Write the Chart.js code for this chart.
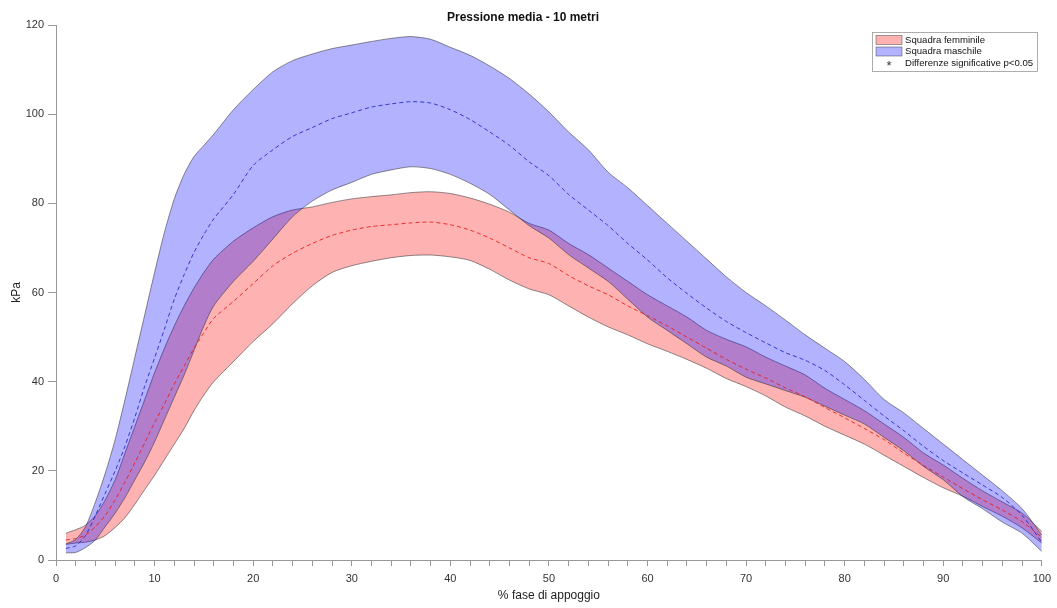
<!DOCTYPE html>
<html><head><meta charset="utf-8">
<script src="https://cdn.jsdelivr.net/npm/chart.js@4.4.1/dist/chart.umd.min.js"></script>
<style>html,body{margin:0;padding:0;background:#fff;}#wrap{width:1057px;height:608px;position:relative;}</style>
</head><body><div id="wrap"><canvas id="c" width="1057" height="608"></canvas></div>
<script>
// % fase di appoggio
const xs = [1,2,3,4,5,6,7,8,9,10,11,12,13,14,15,16,18,20,22,24,26,28,30,32,34,36,38,40,42,44,46,48,50,52,54,56,58,60,62,64,66,68,70,72,74,76,78,80,82,84,86,88,90,92,94,96,98,100];
// Squadra femminile (kPa)
const femUpper = [6.0,6.8,7.8,10,13.5,18,24,30,36,42,47.5,52.5,57,61,64.5,67.5,71.5,74.5,77,78.5,79.2,80.2,81,81.5,81.9,82.4,82.6,82.2,81.2,79.8,78,75.5,74,71,68.5,65.5,62.5,59.5,57,54.5,51.5,49.5,47.8,45.5,43.5,41.5,38.5,36,33.5,30.5,27.5,24,21.3,18.3,15.5,13,10.5,6.4];
const femMean  = [4.5,4.8,5.6,7.5,10,13.5,17.5,21.8,26.3,30.8,35,39.5,43.5,47.5,51,54.2,58,62,66,68.8,71,72.8,74,74.8,75.2,75.6,75.8,75.2,74,72.2,70,67.8,66.5,63.8,61.5,59.5,57,54.8,52.5,50,47.5,45,42.8,40.8,38.6,36.6,34.2,31.9,29.5,27,24,21.2,18.6,16,13.5,11.2,8.6,5.1];
const femLower = [3.5,3.8,4.0,4.5,5.5,7.3,9.5,12.5,15.8,19,22.5,26,29.5,33.5,37,40,44.5,49,53,57.5,61.5,64.5,66,67,67.8,68.3,68.4,68,67.2,65.2,62.8,60.8,59.5,57,54.5,52.3,50.5,48.5,46.8,45,43,40.7,38.9,36.8,34.3,32.3,30,28,26,23.5,21,18.5,16.2,14.3,12,9.8,7.2,3.8];
// Squadra maschile (kPa)
const masUpper = [3.6,4.6,7.5,13,19.5,27,36,45.5,55,64.5,73.5,81,86.5,90.5,93,95.5,101,105.5,109.5,112,113.5,114.7,115.5,116.3,117,117.4,116.8,115,113.2,110.8,108,104.5,100.5,96,92,87,83.5,79.5,75.5,71.5,67.5,63.5,60,57,53.8,50.5,47.5,44.5,40.5,36,33,29.5,26,22.5,19,15.5,11.5,5.6];
const masMean  = [2.6,3.2,5.5,10,15,20,25.5,32,39,45.3,51.8,58.5,64,69,73,76.5,82,88.5,92,95,97,99,100.3,101.6,102.3,102.8,102.5,101,98.8,96,93,89.3,86.2,82,78.5,75,71,67.3,63.3,59.8,56.5,53.5,51,48.7,46.5,44.8,42.5,39.3,35.8,32.3,29,25.5,22.3,19.5,16.8,14,10,4];
const masLower = [1.6,1.7,2.8,4.5,7.5,10.5,14,18,22,26.5,31.5,36.5,41.5,47,52.5,57,62.5,67,72,77,80.5,83,84.7,86.5,87.5,88.2,87.8,86.5,84.5,82,78.5,75,72.2,68.5,65.5,62.5,58.5,54.5,51.5,48.5,45.5,43.5,41,39.5,38,36.5,34.5,32.5,30.5,27.5,24.5,21,18,14.2,11.5,8.5,6,1.9];
// axis ticks
const yTicks = [0,20,40,60,80,100,120];
const xLabelStep = 10;

const pts = arr => arr.map((v,i)=>({x:xs[i], y:v}));
const FONT = "'Liberation Sans', Arial, Helvetica, sans-serif";
const edge = 'rgba(40,40,40,0.75)';

const legendPlugin = {
  id:'boxLegend',
  afterDraw(chart){
    const ctx = chart.ctx;
    const x0 = 872, y0 = 32, w = 165, h = 39;
    ctx.save();
    ctx.fillStyle = '#fff';
    ctx.fillRect(x0,y0,w,h);
    ctx.strokeStyle = '#9a9a9a';
    ctx.lineWidth = 0.8;
    ctx.strokeRect(x0+0.5,y0+0.5,w,h);
    const items = [
      {type:'box', fill:'rgba(255,0,0,0.3)', text:'Squadra femminile'},
      {type:'box', fill:'rgba(0,0,255,0.3)', text:'Squadra maschile'},
      {type:'star', text:'Differenze significative p<0.05'}
    ];
    ctx.textBaseline = 'middle';
    items.forEach((it,i)=>{
      const cy = y0 + 8 + i*11.5;
      if (it.type==='box'){
        ctx.fillStyle = it.fill;
        ctx.fillRect(x0+4, cy-4.5, 26, 9);
        ctx.strokeStyle = 'rgba(40,40,40,0.7)';
        ctx.lineWidth = 0.6;
        ctx.strokeRect(x0+4, cy-4.5, 26, 9);
      } else {
        ctx.fillStyle = '#333';
        ctx.textAlign = 'center';
        ctx.font = '13px ' + FONT;
        ctx.fillText('*', x0+17, cy+3);
      }
      ctx.font = '9.6px ' + FONT;
      ctx.fillStyle = '#111';
      ctx.textAlign = 'left';
      ctx.fillText(it.text, x0+33, cy);
    });
    ctx.restore();
  }
};

new Chart(document.getElementById('c'), {
  type:'line',
  data:{
    datasets:[
      {label:'fU', data:pts(femUpper), fill:'+1', backgroundColor:'rgba(255,0,0,0.3)', borderColor:edge, borderWidth:0.7, order:6},
      {label:'fL', data:pts(femLower), fill:false, borderColor:edge, borderWidth:0.7, order:5},
      {label:'mU', data:pts(masUpper), fill:'+1', backgroundColor:'rgba(0,0,255,0.3)', borderColor:edge, borderWidth:0.7, order:4},
      {label:'mL', data:pts(masLower), fill:false, borderColor:edge, borderWidth:0.7, order:3},
      {label:'fM', data:pts(femMean), fill:false, borderColor:'rgba(230,30,30,0.9)', borderWidth:1, borderDash:[4,3], order:1},
      {label:'mM', data:pts(masMean), fill:false, borderColor:'rgba(40,40,200,0.9)', borderWidth:1, borderDash:[4,3], order:0}
    ]
  },
  options:{
    responsive:false,
    animation:false,
    devicePixelRatio:1,
    elements:{point:{radius:0}, line:{tension:0.25}},
    layout:{padding:{left:0,right:11,top:0,bottom:0}},
    plugins:{
      legend:{display:false},
      tooltip:{enabled:false},
      title:{display:true, text:'Pressione media - 10 metri', color:'#111',
        font:{family:FONT, size:12, weight:'bold'}, padding:{top:10,bottom:0.6}}
    },
    scales:{
      x:{type:'linear', min:0, max:100,
        afterFit(s){ s.height = 48; },
        afterBuildTicks(s){ const t=[]; for(let v=0; v<=100; v+=2) t.push({value:v}); s.ticks=t; },
        ticks:{autoSkip:false, maxRotation:0, padding:6, color:'#333', font:{family:FONT,size:11},
          callback:v => (v % xLabelStep === 0 ? String(v) : '')},
        grid:{drawOnChartArea:false, drawTicks:true, tickLength:6, color:'#999', lineWidth:1},
        border:{display:true, color:'#999', width:1},
        title:{display:true, text:'% fase di appoggio', color:'#222', font:{family:FONT,size:12}, padding:{top:0,bottom:5}}
      },
      y:{type:'linear', min:0, max:120,
        afterFit(s){ s.width = 56; },
        afterBuildTicks(s){ s.ticks = yTicks.map(v=>({value:v})); },
        ticks:{padding:4, color:'#333', font:{family:FONT,size:11}},
        grid:{drawOnChartArea:false, drawTicks:true, tickLength:8, color:'#999', lineWidth:1},
        border:{display:true, color:'#999', width:1},
        title:{display:true, text:'kPa', color:'#222', font:{family:FONT,size:12}, padding:{top:9,bottom:0}}
      }
    }
  },
  plugins:[legendPlugin]
});
</script></body></html>
